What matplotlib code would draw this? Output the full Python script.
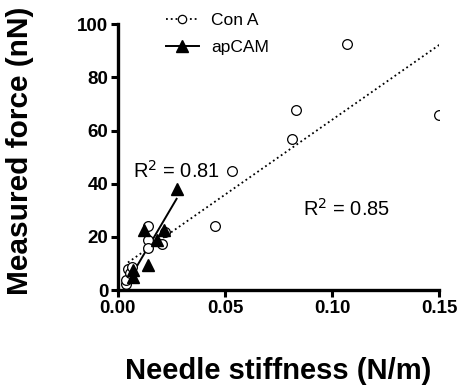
import numpy as np
import matplotlib
matplotlib.use("Agg")
import matplotlib.pyplot as plt

plt.rcParams['font.family'] = ['Liberation Sans', 'DejaVu Sans']

# Con A: needle stiffness (N/m) vs measured force (nN)
cona_k = [0.0037, 0.0040, 0.0049, 0.0055, 0.0064, 0.0140, 0.0140, 0.0140,
          0.0204, 0.0220, 0.0453, 0.0534, 0.0814, 0.0831, 0.1068, 0.1500]
cona_f = [2.3, 3.8, 8.1, 6.3, 8.8, 24.0, 18.8, 15.7,
          17.2, 21.7, 24.1, 44.7, 56.8, 67.9, 92.4, 65.7]

# apCAM
apcam_k = [0.0069, 0.0069, 0.0123, 0.0139, 0.0184, 0.0213, 0.0274]
apcam_f = [7.5, 5.0, 22.8, 9.4, 18.8, 22.8, 38.2]

fig = plt.figure(figsize=(4.64, 3.9), dpi=100)
ax = fig.add_axes([0.254, 0.256, 0.693, 0.682])

# linear fits
p1 = np.polyfit(cona_k, cona_f, 1)
p2 = np.polyfit(apcam_k, apcam_f, 1)
xs1 = np.array([min(cona_k) + 0.001, max(cona_k)])
xs2 = np.array([min(apcam_k) - 0.0005, max(apcam_k)])

ax.plot(xs1, np.polyval(p1, xs1), ls=':', color='black', lw=1.3)
ax.plot(xs2, np.polyval(p2, xs2), ls='-', color='black', lw=1.4)

ax.plot(cona_k, cona_f, 'o', mfc='white', mec='black', ms=7, mew=0.9, ls='none')
ax.plot(apcam_k, apcam_f, '^', color='black', ms=9, ls='none')

# legend handles
h1, = ax.plot([], [], ls=':', color='black', marker='o', mfc='white', mec='black', ms=6, mew=0.9, lw=1.3)
h2, = ax.plot([], [], ls='-', color='black', marker='^', ms=9, lw=1.4)
ax.legend([h1, h2], ['Con A', 'apCAM'], loc='upper left', bbox_to_anchor=(0.1, 1.1),
          frameon=False, fontsize=12.5, handlelength=1.9, handletextpad=0.7, labelspacing=0.65)

ax.text(0.0071, 45, 'R$^2$ = 0.81', fontsize=14.4, va='center')
ax.text(0.0864, 30.5, 'R$^2$ = 0.85', fontsize=14.4, va='center')

ax.set_xlim(0, 0.15)
ax.set_ylim(0, 100)
ax.set_xticks([0.00, 0.05, 0.10, 0.15])
ax.set_xticklabels(['0.00', '0.05', '0.10', '0.15'])
ax.set_yticks([0, 20, 40, 60, 80, 100])

for s in ['top', 'right']:
    ax.spines[s].set_visible(False)
for s in ['left', 'bottom']:
    ax.spines[s].set_linewidth(2.4)
ax.tick_params(width=2.2, length=5, labelsize=13.5, pad=2)
for lab in ax.get_xticklabels() + ax.get_yticklabels():
    lab.set_fontweight('bold')

ax.set_xlabel('Needle stiffness (N/m)', fontsize=21, fontweight='bold', labelpad=29)
ax.set_ylabel('Measured force (nN)', fontsize=21.5, fontweight='bold')
ax.yaxis.set_label_coords(-0.262, 0.525)

fig.savefig('out.png', dpi=100)
